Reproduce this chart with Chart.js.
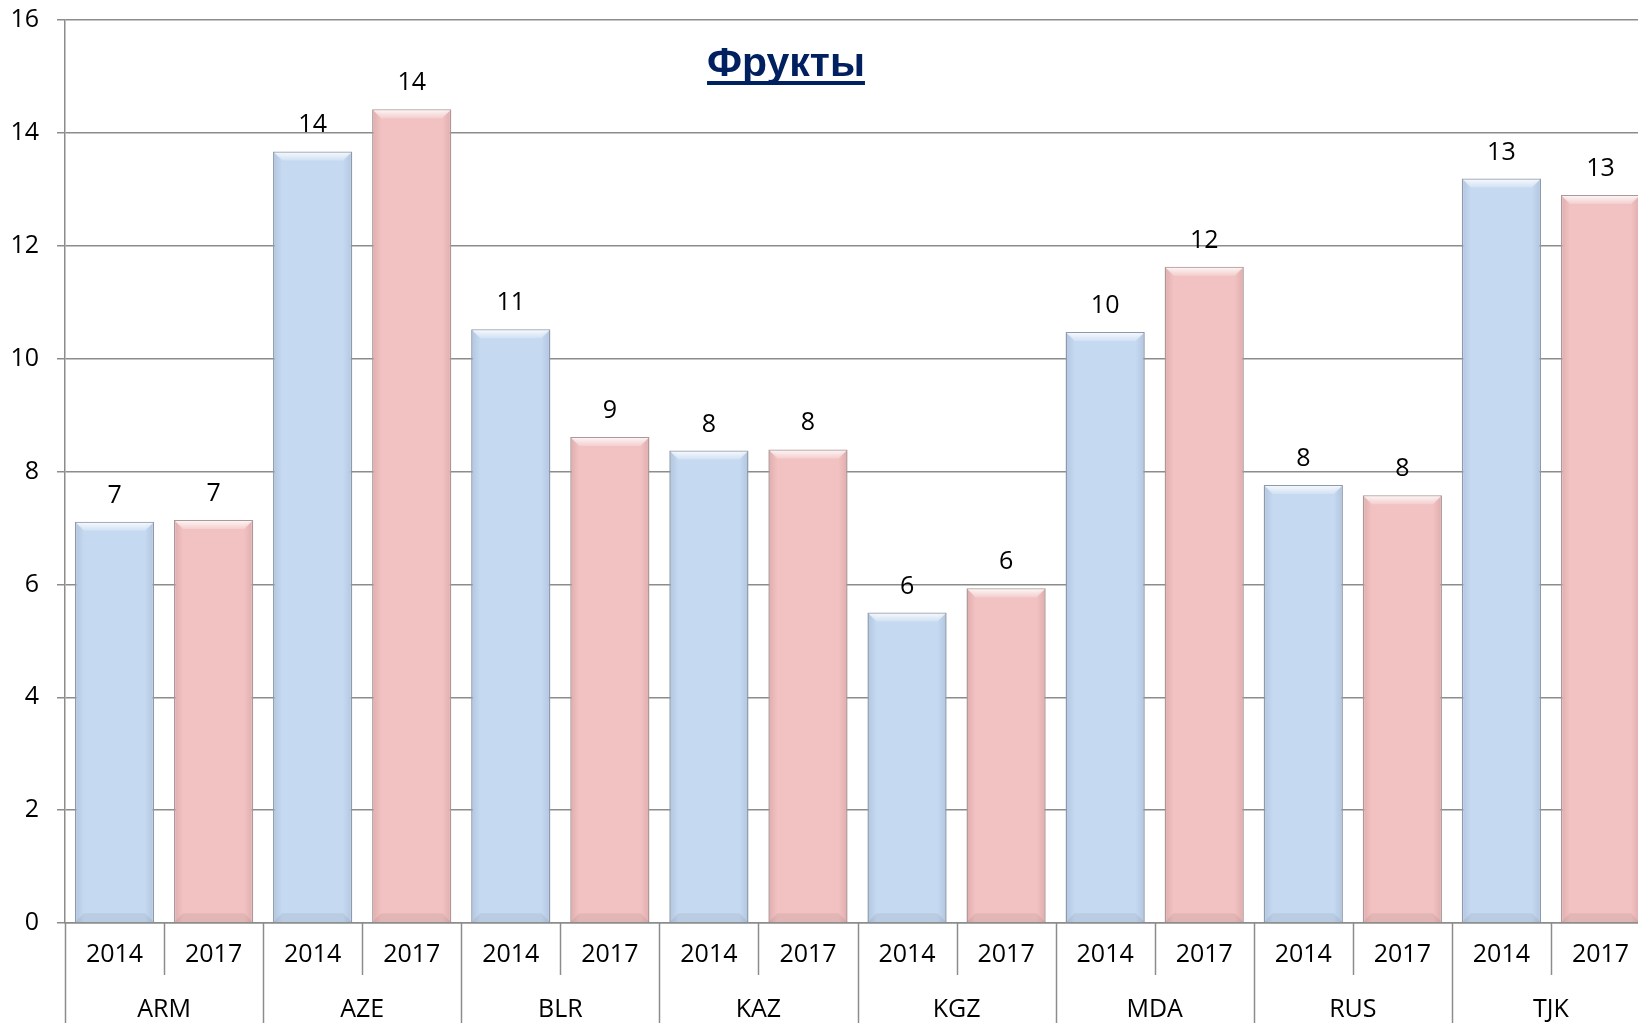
<!DOCTYPE html>
<html>
<head>
<meta charset="utf-8">
<script src="https://cdn.jsdelivr.net/npm/chart.js@4/dist/chart.umd.min.js"></script>
<style>
  html, body { margin: 0; padding: 0; background: #fff; overflow: hidden; }
  #wrap { width: 1650px; height: 1023px; }
</style>
</head>
<body>
<div id="wrap"><canvas id="theChart" width="1650" height="1023"></canvas></div>
<script>
// values
const countries = ["ARM", "AZE", "BLR", "KAZ", "KGZ", "MDA", "RUS", "TJK"]
const years = ["2014", "2017"]
const values2014 = [7.11, 13.67, 10.52, 8.37, 5.50, 10.47, 7.76, 13.19]
const values2017 = [7.14, 14.42, 8.61, 8.39, 5.93, 11.63, 7.58, 12.90]
const yTicks = [0, 2, 4, 6, 8, 10, 12, 14, 16]
const title = "Фрукты"

const labels = []
const data14 = []
const data17 = []
countries.forEach((c, i) => {
    labels.push(years[0], years[1])
    data14.push(values2014[i], null)
    data17.push(null, values2017[i])
})

const font = "'Open Sans', sans-serif"
const gridGray = "#8c8c8c"

// soft horizontal shading for the bars
function barFill(base, edge) {
    return (ctx) => {
        const chart = ctx.chart
        const sc = chart.scales.x
        if (!sc) return base
        const x = sc.getPixelForValue(ctx.dataIndex)
        if (!isFinite(x)) return base
        const g = chart.ctx.createLinearGradient(x - 40, 0, x + 40, 0)
        g.addColorStop(0, edge)
        g.addColorStop(0.12, base)
        g.addColorStop(0.88, base)
        g.addColorStop(1, edge)
        return g
    }
}

const bevel = {
    id: "bevel",
    afterDatasetsDraw(chart) {
        const c = chart.ctx
        chart.data.datasets.forEach((ds, di) => {
            chart.getDatasetMeta(di).data.forEach((el, i) => {
                if (ds.data[i] == null) return
                const l = el.x - el.width / 2, r = el.x + el.width / 2
                const t = el.y, b = el.base, d = 9
                c.save()
                const g = c.createLinearGradient(0, t, 0, t + d)
                g.addColorStop(0, "rgba(255,255,255,0.9)")
                g.addColorStop(1, "rgba(255,255,255,0.2)")
                c.fillStyle = g
                c.beginPath()
                c.moveTo(l + 1, t + 1); c.lineTo(r - 1, t + 1); c.lineTo(r - d, t + d); c.lineTo(l + d, t + d)
                c.closePath(); c.fill()
                c.fillStyle = "rgba(0,0,0,0.06)"
                c.beginPath()
                c.moveTo(l, b); c.lineTo(r, b); c.lineTo(r - d, b - d); c.lineTo(l + d, b - d)
                c.closePath(); c.fill()
                c.restore()
            })
        })
    }
}

const valueLabels = {
    id: "valueLabels",
    afterDatasetsDraw(chart) {
        const c = chart.ctx
        c.save()
        c.font = "25px " + font
        c.fillStyle = "#000"
        c.textAlign = "center"
        c.textBaseline = "alphabetic"
        chart.data.datasets.forEach((ds, di) => {
            chart.getDatasetMeta(di).data.forEach((el, i) => {
                if (ds.data[i] == null) return
                c.fillText(String(Math.round(ds.data[i])), el.x, el.y - 19)
            })
        })
        c.restore()
    }
}

const groupAxis = {
    id: "groupAxis",
    afterDraw(chart) {
        const c = chart.ctx
        const xs = chart.scales.x
        const w = xs.getPixelForValue(1) - xs.getPixelForValue(0)
        const top = xs.top
        c.save()
        c.strokeStyle = gridGray
        c.lineWidth = 1.5
        for (let i = 0; i <= labels.length; i++) {
            const x = Math.round(xs.getPixelForValue(i) - w / 2) + 0.5
            c.beginPath()
            c.moveTo(x, top)
            c.lineTo(x, i % 2 === 0 ? chart.height : top + 52)
            c.stroke()
        }
        c.font = "25px " + font
        c.fillStyle = "#000"
        c.textAlign = "center"
        c.textBaseline = "middle"
        countries.forEach((name, i) => {
            const x = (xs.getPixelForValue(2 * i) + xs.getPixelForValue(2 * i + 1)) / 2
            c.fillText(name, x, top + 87)
        })
        // title
        c.font = "bold 41px 'Liberation Sans', Arial, sans-serif"
        c.fillStyle = "#002060"
        c.textBaseline = "alphabetic"
        c.fillText(title, 786, 76)
        const tw = c.measureText(title).width
        c.fillRect(786 - tw / 2, 81, tw, 4)
        c.restore()
    }
}

const ctx = document.getElementById("theChart")
new Chart(ctx, {
    type: "bar",
    data: {
        labels: labels,
        datasets: [{
            label: years[0],
            data: data14,
            backgroundColor: barFill("#c5d9f1", "#b0c4de"),
            borderColor: "#8e9aab",
            borderWidth: 1.5,
            barPercentage: 0.8,
            categoryPercentage: 1,
            skipNull: true
        }, {
            label: years[1],
            data: data17,
            backgroundColor: barFill("#f2c2c2", "#deabab"),
            borderColor: "#b09696",
            borderWidth: 1.5,
            barPercentage: 0.8,
            categoryPercentage: 1,
            skipNull: true
        }]
    },
    options: {
        responsive: false,
        animation: false,
        layout: { padding: { top: 20, right: 0, left: 0, bottom: 0 } },
        plugins: { legend: { display: false }, tooltip: { enabled: false }, title: { display: false } },
        scales: {
            x: {
                stacked: false,
                grid: { display: false, drawTicks: false },
                border: { display: true, color: gridGray, width: 1.5 },
                ticks: { color: "#000", font: { family: font, size: 25 }, padding: 17, maxRotation: 0, autoSkip: false },
                afterFit: (s) => { s.height = 100 }
            },
            y: {
                min: yTicks[0],
                max: yTicks[yTicks.length - 1],
                afterBuildTicks: (s) => { s.ticks = yTicks.map(v => ({ value: v })) },
                grid: { color: gridGray, lineWidth: 1.5, tickLength: 8 },
                border: { display: true, color: gridGray, width: 1.5 },
                ticks: { color: "#000", font: { family: font, size: 25 }, padding: 18 },
                afterFit: (s) => { s.width = 65; s.paddingTop = 0; s.paddingBottom = 0 }
            }
        }
    },
    plugins: [bevel, valueLabels, groupAxis]
})
</script>
</body>
</html>
